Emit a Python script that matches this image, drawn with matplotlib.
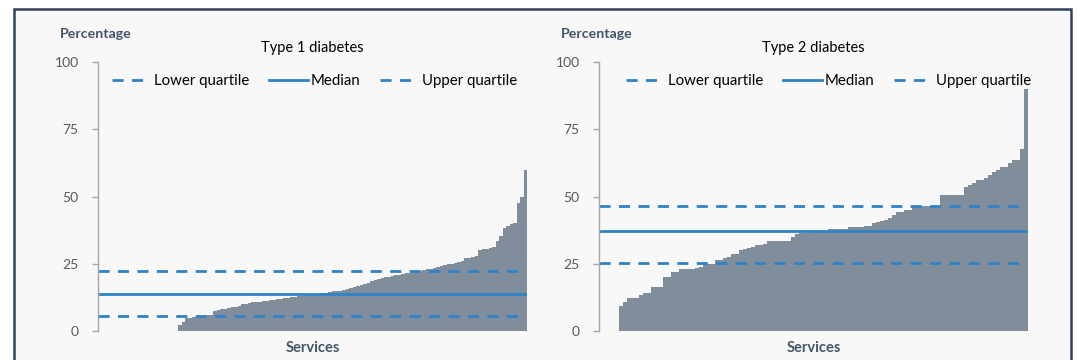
import numpy as np
import matplotlib.pyplot as plt
from matplotlib.patches import Rectangle
from matplotlib.lines import Line2D

# --- datos ---
# Tipo 1: 23 servicios en 0 y luego 100 servicios ordenados
t1_zeros = [0.0] * 23
t1_values = [
    2.2, 3.2, 4.7, 5.0, 5.2, 5.3, 5.4, 5.6, 5.8, 6.0,
    7.5, 7.8, 8.0, 8.2, 8.4, 8.8, 9.0, 9.4, 10.0, 10.1,
    10.3, 10.6, 10.8, 10.9, 11.0, 11.2, 11.4, 11.6, 11.8, 11.9,
    12.1, 12.3, 12.5, 12.7, 12.9, 13.0, 13.2, 13.5, 13.7, 13.9,
    14.1, 14.2, 14.3, 14.5, 14.7, 14.9, 15.0, 15.3, 15.6, 15.9,
    16.3, 16.7, 17.1, 17.5, 18.0, 18.6, 18.9, 19.3, 19.7, 20.0,
    20.2, 20.5, 20.8, 21.0, 21.2, 21.4, 21.6, 21.8, 22.0, 22.3,
    22.6, 22.9, 23.2, 23.5, 23.8, 24.2, 24.4, 24.9, 25.0, 25.2,
    25.8, 26.1, 27.0, 27.3, 27.6, 28.0, 30.1, 30.3, 30.6, 31.0,
    31.3, 33.6, 35.3, 38.2, 39.1, 39.6, 40.3, 47.7, 50.0, 59.9,
]
t1_quartiles = [5.6, 13.6, 22.2]  # inferior, mediana, superior

# Tipo 2: 5 servicios en 0 y luego 102 servicios ordenados
t2_zeros = [0.0] * 5
t2_values = [
    9.3, 10.7, 12.4, 12.4, 12.4, 13.2, 14.1, 14.1, 16.4, 16.4,
    16.4, 19.9, 19.9, 22.0, 22.0, 23.0, 23.0, 23.0, 23.2, 23.6,
    23.8, 24.8, 24.8, 24.9, 26.3, 26.5, 27.2, 27.4, 28.6, 28.8,
    30.1, 30.3, 31.0, 31.3, 32.0, 32.0, 32.2, 33.4, 33.4, 33.4,
    33.4, 33.4, 33.5, 35.1, 36.0, 36.3, 36.6, 36.6, 37.0, 37.0,
    37.0, 37.1, 37.8, 37.8, 37.8, 37.9, 38.0, 38.6, 38.6, 38.7,
    38.8, 39.0, 39.2, 40.3, 40.4, 41.0, 41.2, 41.9, 43.2, 44.2,
    44.3, 44.8, 44.9, 46.0, 46.1, 46.4, 46.4, 46.4, 46.5, 46.6,
    50.4, 50.4, 50.4, 50.4, 50.4, 50.5, 53.5, 54.4, 55.0, 56.0,
    56.0, 56.7, 57.9, 59.0, 60.0, 60.8, 60.8, 62.4, 63.4, 63.4,
    67.5, 89.8,
]
t2_quartiles = [25.2, 37.0, 46.3]

titulos = ["Type 1 diabetes", "Type 2 diabetes"]
etiquetas_leyenda = ["Lower quartile", "Median", "Upper quartile"]
y_ticks = [0, 25, 50, 75, 100]

# --- estilo ---
FUENTE = "Lato"
COLOR_BARRA = "#7f8e9a"
COLOR_LINEA = "#2e83c6"
COLOR_TEXTO = "#595959"
COLOR_EJE = "#44546a"
GUIONES = (4, 3)

plt.rcParams["font.family"] = FUENTE

fig = plt.figure(figsize=(10.78, 3.6), dpi=100)
fig.patch.set_facecolor("white")

# Marco de fondo
W, H = 1078, 360
fondo = Rectangle((14 / W, -0.05), (1071 - 14) / W, (H - 9) / H + 0.05,
                  transform=fig.transFigure, facecolor="#f8f8f8",
                  edgecolor="#2f3f5c", linewidth=1.8, zorder=-10)
fig.patches.append(fondo)

# (x del eje en px, datos, cuartiles, titulo, centro de la leyenda)
paneles = [
    (98, t1_zeros + t1_values, t1_quartiles, titulos[0], 0.505),
    (599, t2_zeros + t2_values, t2_quartiles, titulos[1], 0.535),
]

for x_px, datos, cuartiles, titulo, ley_x in paneles:
    ax = fig.add_axes([x_px / W, 29 / H, 429 / W, 269 / H])
    ax.set_facecolor("none")
    n = len(datos)
    ax.bar(np.arange(n), datos, width=1.0, align="edge",
           color=COLOR_BARRA, linewidth=0, zorder=1)

    ax.axhline(cuartiles[0], xmin=0, xmax=0.995, color=COLOR_LINEA,
               linewidth=2, dashes=GUIONES, zorder=2)
    ax.axhline(cuartiles[1], color=COLOR_LINEA, linewidth=2, zorder=2)
    ax.axhline(cuartiles[2], xmin=0, xmax=0.995, color=COLOR_LINEA,
               linewidth=2, dashes=GUIONES, zorder=2)

    ax.set_xlim(0, n)
    ax.set_ylim(0, 100)
    ax.set_yticks(y_ticks)
    ax.set_xticks([])
    for s in ["top", "right", "bottom"]:
        ax.spines[s].set_visible(False)
    ax.spines["left"].set_color("#a6a6a6")
    ax.spines["left"].set_linewidth(1)
    ax.tick_params(axis="y", length=4, width=1, color="#a6a6a6",
                   labelsize=10, labelcolor=COLOR_TEXTO, pad=10)

    ax.set_title(titulo, fontsize=10.5, color="black", pad=7)
    ax.text(-38 / 429, 1.105, "Percentage", transform=ax.transAxes,
            fontsize=10.2, fontweight="bold", color=COLOR_EJE,
            ha="left", va="center")
    ax.text(0.5, -0.065, "Services", transform=ax.transAxes,
            fontsize=10.5, fontweight="bold", color=COLOR_EJE,
            ha="center", va="center")

    handles = [
        Line2D([], [], color=COLOR_LINEA, linewidth=2, dashes=GUIONES),
        Line2D([], [], color=COLOR_LINEA, linewidth=2),
        Line2D([], [], color=COLOR_LINEA, linewidth=2, dashes=GUIONES),
    ]
    ax.legend(handles, etiquetas_leyenda, ncol=3, frameon=False,
              loc="upper center", bbox_to_anchor=(ley_x, 1.0),
              fontsize=10.8, handlelength=2.6, handletextpad=0.2,
              columnspacing=1.3, borderaxespad=0.4)

fig.savefig("out.png", dpi=100)
